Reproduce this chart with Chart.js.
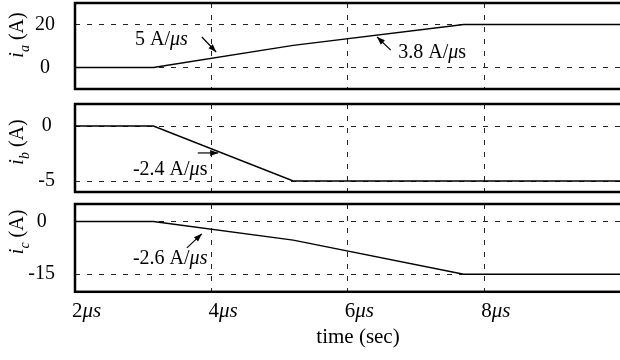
<!DOCTYPE html>
<html>
<head>
<meta charset="utf-8">
<script src="https://cdn.jsdelivr.net/npm/chart.js@4.4.1/dist/chart.umd.min.js"></script>
<style>
  html, body { margin: 0; padding: 0; background: #fff; overflow: hidden; width: 620px; height: 360px; }
  canvas { position: absolute; left: 0; }
</style>
</head>
<body>
<canvas id="pa" width="645" height="93" style="top:0px"></canvas>
<canvas id="pb" width="645" height="100" style="top:95px"></canvas>
<canvas id="pc" width="645" height="165" style="top:195px"></canvas>
<script>
// time axis (microseconds) and phase currents (A)
const timeUs = [2, 3.15, 5.2, 7.7, 10.3];
const iaAmps = [0, 0, 10.3, 20, 20];
const ibAmps = [0, 0, -5, -5, -5];
const icAmps = [0, 0, -5.3, -15, -15];

const timeTicks = [2, 4, 6, 8];
const iaTicks = [0, 20];
const ibTicks = [-5, 0];
const icTicks = [-15, 0];

const SERIF = "'Liberation Serif', 'DejaVu Serif', serif";
const FS = 20;

function fontFor(style, size) {
  if (style === 'sub') return `italic ${Math.round(size * 0.7)}px ${SERIF}`;
  if (style === 'i') return `italic ${size}px ${SERIF}`;
  return `${size}px ${SERIF}`;
}

// draw a run of mixed upright / italic / subscript text
function drawRich(ctx, parts, x, y, center, size = FS) {
  const widths = parts.map(p => { ctx.font = fontFor(p[1], size); return ctx.measureText(p[0]).width; });
  const total = widths.reduce((a, b) => a + b, 0);
  let cx = center ? x - total / 2 : x;
  parts.forEach((p, i) => {
    ctx.font = fontFor(p[1], size);
    ctx.fillText(p[0], cx, y + (p[1] === 'sub' ? size * 0.3 : 0));
    cx += widths[i];
  });
}

function arrow(ctx, x1, y1, x2, y2) {
  ctx.beginPath();
  ctx.moveTo(x1, y1);
  ctx.lineTo(x2, y2);
  ctx.stroke();
  const ang = Math.atan2(y2 - y1, x2 - x1);
  const len = 8, half = 3;
  ctx.beginPath();
  ctx.moveTo(x2, y2);
  ctx.lineTo(x2 - len * Math.cos(ang) + half * Math.sin(ang), y2 - len * Math.sin(ang) - half * Math.cos(ang));
  ctx.lineTo(x2 - len * Math.cos(ang) - half * Math.sin(ang), y2 - len * Math.sin(ang) + half * Math.cos(ang));
  ctx.closePath();
  ctx.fill();
}

function makeDecor(cfg) {
  return {
    id: 'panelDecor',
    afterDraw(chart) {
      const { ctx, chartArea: a, scales: { x, y } } = chart;
      ctx.save();
      ctx.strokeStyle = '#000';
      ctx.fillStyle = '#000';
      // frame (right side runs off the page, as in the original)
      ctx.lineWidth = 2.5;
      ctx.strokeRect(a.left, a.top, a.right - a.left + 20, a.bottom - a.top);

      // y title, rotated
      ctx.save();
      ctx.translate(23, (a.top + a.bottom) / 2 + cfg.titleShift);
      ctx.rotate(-Math.PI / 2);
      ctx.textBaseline = 'alphabetic';
      drawRich(ctx, [['i', 'i'], [cfg.sub, 'sub'], [' (A)', 'r']], 0, 0, true);
      ctx.restore();

      // slope annotations
      ctx.lineWidth = 1.2;
      ctx.textBaseline = 'alphabetic';
      cfg.notes.forEach(n => {
        drawRich(ctx, n.parts, x.getPixelForValue(n.at[0]), y.getPixelForValue(n.at[1]), false);
        arrow(ctx, x.getPixelForValue(n.from[0]), y.getPixelForValue(n.from[1]),
                   x.getPixelForValue(n.to[0]), y.getPixelForValue(n.to[1]));
      });

      // x tick labels with italic units
      if (cfg.xLabels) {
        timeTicks.forEach(t => {
          drawRich(ctx, [[String(t), 'r'], ['μs', 'i']], x.getPixelForValue(t) - 3, a.bottom + 25, false, 21);
        });
      }
      ctx.restore();
    }
  };
}

function makePanel(id, values, yTicks, yMin, yMax, cfg) {
  return new Chart(document.getElementById(id), {
    type: 'line',
    data: {
      datasets: [{
        data: timeUs.map((t, i) => ({ x: t, y: values[i] })),
        borderColor: '#000',
        borderWidth: 1.4,
        pointRadius: 0,
        tension: 0,
        fill: false,
      }]
    },
    options: {
      responsive: false,
      animation: false,
      devicePixelRatio: 1,
      layout: { padding: cfg.padding },
      plugins: { legend: { display: false }, tooltip: { enabled: false } },
      scales: {
        x: {
          type: 'linear',
          min: 2,
          max: 10.3,
          afterBuildTicks: s => { s.ticks = timeTicks.map(v => ({ value: v })); },
          ticks: { display: false },
          grid: { color: '#222', lineWidth: 1, drawTicks: false },
          border: { display: false, dash: [5, 7] },
          title: cfg.xLabels
            ? { display: true, text: 'time (sec)', color: '#000', font: { family: SERIF, size: 21 }, padding: { top: 33, bottom: 10 } }
            : { display: false },
        },
        y: {
          type: 'linear',
          min: yMin,
          max: yMax,
          afterBuildTicks: s => { s.ticks = yTicks.map(v => ({ value: v })); },
          // fixed axis width, and no extra room reserved above/below for the labels
          afterFit: s => { s.width = 75; s.paddingTop = 0; s.paddingBottom = 0; },
          ticks: { crossAlign: 'center', padding: 20, color: '#000', font: { family: SERIF, size: FS }, callback: v => String(v) },
          grid: { color: '#222', lineWidth: 1, drawTicks: false },
          border: { display: false, dash: [5, 7] },
        }
      }
    },
    plugins: [makeDecor(cfg)]
  });
}

makePanel('pa', iaAmps, iaTicks, -10, 30, {
  padding: { top: 3, bottom: 4, left: 0, right: 4 },
  sub: 'a', titleShift: -11,
  notes: [
    { parts: [['5 A/', 'r'], ['μs', 'i']], at: [2.88, 10.5], from: [3.86, 14.2], to: [4.07, 7.2] },
    { parts: [['3.8 A/', 'r'], ['μ', 'i'], ['s', 'r']], at: [6.74, 4.4], from: [6.63, 8.1], to: [6.43, 14.2] },
  ],
});

makePanel('pb', ibAmps, ibTicks, -6, 2, {
  padding: { top: 9, bottom: 3, left: 0, right: 4 },
  sub: 'b', titleShift: -6,
  notes: [
    { parts: [['-2.4 A/', 'r'], ['μ', 'i'], ['s', 'r']], at: [2.85, -4.45], from: [3.80, -2.45], to: [4.10, -2.45] },
  ],
});

makePanel('pc', icAmps, icTicks, -20, 5, {
  padding: { top: 9, bottom: 0, left: 0, right: 4 },
  sub: 'c', titleShift: -16, xLabels: true,
  notes: [
    { parts: [['-2.6 A/', 'r'], ['μs', 'i']], at: [2.85, -12.0], from: [3.64, -7.5], to: [3.86, -3.5] },
  ],
});
</script>
</body>
</html>
